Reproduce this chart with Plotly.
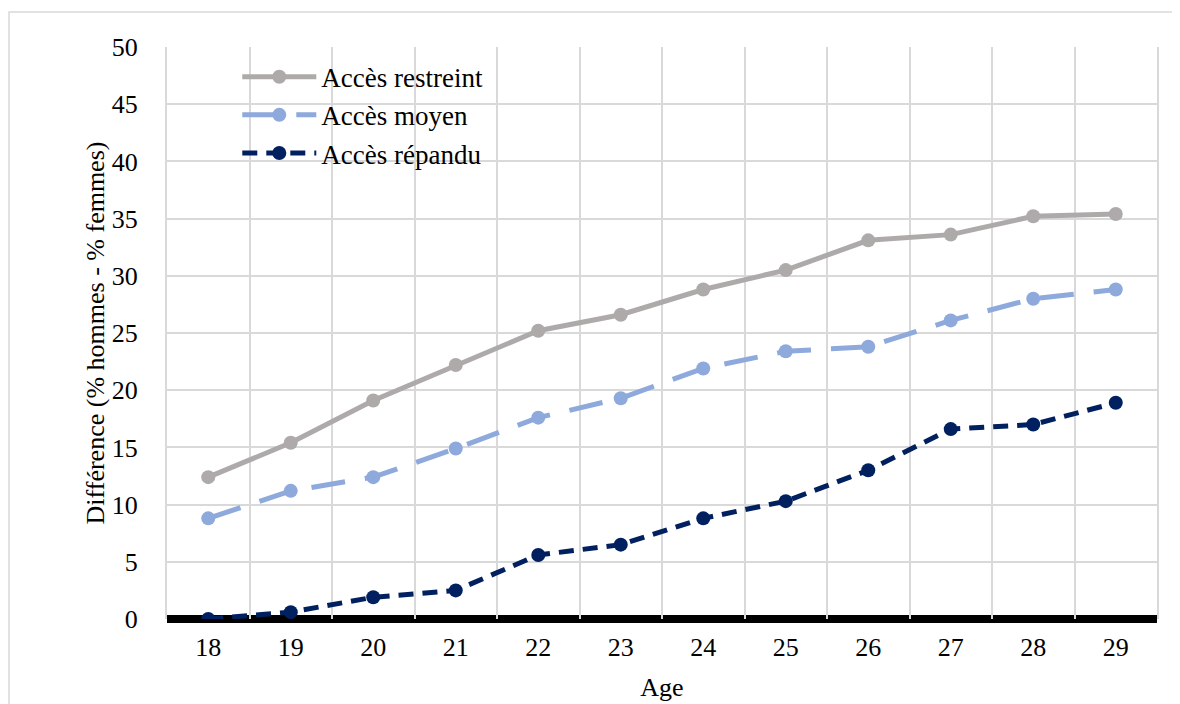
import plotly.graph_objects as go

ages = ['18', '19', '20', '21', '22', '23', '24', '25', '26', '27', '28', '29']
acces_restreint = [12.4, 15.4, 19.1, 22.2, 25.2, 26.6, 28.8, 30.5, 33.1, 33.6, 35.2, 35.4]
acces_moyen = [8.8, 11.2, 12.4, 14.9, 17.6, 19.3, 21.9, 23.4, 23.8, 26.1, 28.0, 28.8]
acces_repandu = [0.0, 0.6, 1.9, 2.5, 5.6, 6.5, 8.8, 10.3, 13.0, 16.6, 17.0, 18.9]

FONT = 'Liberation Serif, Times New Roman, serif'
GRID = '#D9D9D9'

fig = go.Figure()

fig.add_trace(go.Scatter(x=ages, y=acces_restreint, name='Accès restreint',
                         mode='lines+markers',
                         line=dict(color='#AEAAAA', width=5),
                         marker=dict(size=14, color='#AEAAAA')))
fig.add_trace(go.Scatter(x=ages, y=acces_moyen, name='Accès moyen',
                         mode='lines+markers',
                         line=dict(color='#8EA9DB', width=5, dash='34px,20px'),
                         marker=dict(size=14, color='#8EA9DB')))
fig.add_trace(go.Scatter(x=ages, y=acces_repandu, name='Accès répandu',
                         mode='lines+markers',
                         line=dict(color='#002060', width=5, dash='15px,9px'),
                         marker=dict(size=14, color='#002060')))

# white box behind the legend (hides the gridlines, as in the original)
fig.add_shape(type='rect', xref='paper', yref='paper', x0=0.0202, x1=0.5101, y0=0.7902, y1=0.9808,
              fillcolor='white', line=dict(width=0), layer='between')
fig.add_shape(type='rect', xref='paper', yref='paper', x0=0.397, x1=0.437, y0=0.7343, y1=0.80,
              fillcolor='white', line=dict(width=0), layer='between')
# thick black line along the x axis (y = 0)
fig.add_shape(type='line', xref='paper', yref='paper', x0=0, x1=1, y0=0, y1=0,
              line=dict(color='black', width=8), layer='between')
# outer chart border
fig.add_shape(type='rect', xref='paper', yref='paper', x0=-0.1596, x1=1.2, y0=-0.3, y1=1.0612,
              line=dict(color=GRID, width=1.5), fillcolor='rgba(0,0,0,0)', layer='below')

fig.update_xaxes(type='category', range=[-0.5, 11.5], tickson='boundaries', automargin=False,
                 showgrid=True, gridcolor=GRID, gridwidth=2, showline=False,
                 ticks='', ticklabelstandoff=10,
                 tickfont=dict(family=FONT, size=26, color='black'),
                 title=dict(text='Age', font=dict(family=FONT, size=26, color='black'), standoff=16))
fig.update_yaxes(range=[0, 50], dtick=5, automargin=False,
                 showgrid=True, gridcolor=GRID, gridwidth=2,
                 showline=True, linecolor=GRID, linewidth=2, mirror=True, zeroline=False,
                 ticks='', ticklabelstandoff=22,
                 tickfont=dict(family=FONT, size=26, color='black'),
                 title=dict(text='Différence (% hommes - % femmes)',
                            font=dict(family=FONT, size=26, color='black'), standoff=0))

# page body adds 8px, so the figure is 8px smaller
fig.update_layout(
    width=1172, height=696,
    margin=dict(l=159, r=23, t=39, b=85, autoexpand=False),
    paper_bgcolor='white', plot_bgcolor='white',
    showlegend=True,
    legend=dict(x=0.071, y=0.99, xanchor='left', yanchor='top',
                bgcolor='rgba(0,0,0,0)', itemwidth=74, tracegroupgap=0,
                font=dict(family=FONT, size=27, color='black')),
)

fig.write_html("out.html")
